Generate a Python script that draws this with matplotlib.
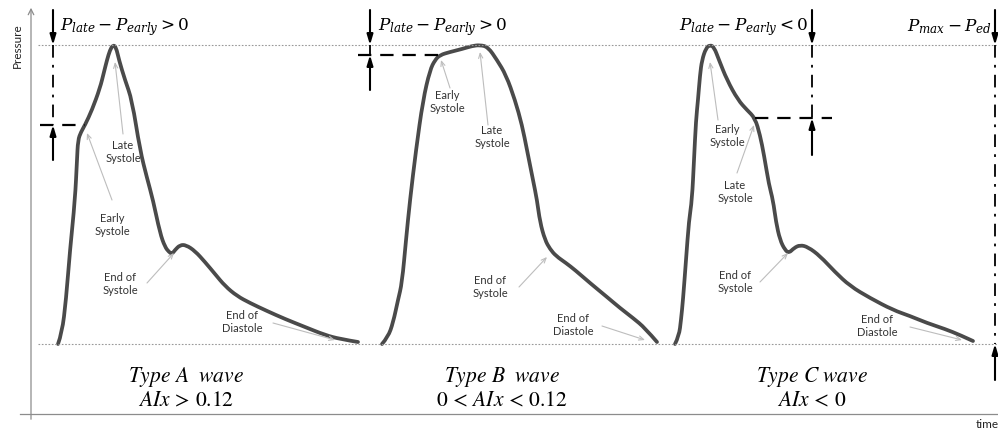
import numpy as np
import matplotlib
matplotlib.use('Agg')
import matplotlib.pyplot as plt
from matplotlib.path import Path
from matplotlib.patches import PathPatch

plt.rcParams['mathtext.fontset'] = 'stix'

# Waveforms: time (arbitrary units) vs pressure (arbitrary units, 0 = end diastolic)
time_a = [27, 31, 35, 39, 44, 46, 47, 50, 54, 61, 69, 73, 76, 79, 82, 85, 88, 94, 101, 109,
          116, 122, 129, 134, 138, 141, 144, 149, 155, 164, 174, 184, 194, 206, 219, 236,
          254, 274, 294, 309, 327]
press_a = [0, 11, 44, 94, 144, 184, 204, 212, 219, 234, 256, 272, 284, 294, 299, 297, 284, 264,
           244, 194, 166, 144, 111, 97, 92, 90, 94, 99, 99, 93, 82, 70, 58, 48, 41, 33, 25,
           17, 9, 5, 2]

time_b = [351, 357, 362, 367, 371, 375, 379, 385, 392, 399, 404, 409, 419, 431, 441, 449, 457,
          466, 475, 484, 491, 496, 502, 506, 509, 514, 519, 525, 535, 544, 559, 576, 589, 602,
          614, 626]
press_b = [0, 7, 21, 44, 61, 104, 144, 194, 244, 274, 284, 289, 292, 295, 298, 299, 297, 284,
           269, 244, 219, 194, 164, 144, 122, 104, 95, 88, 81, 74, 61, 47, 36, 26, 16, 2]

time_c = [644, 648, 650, 652, 655, 658, 661, 663, 665, 667, 669, 671, 675, 679, 683, 688, 696,
          707, 716, 724, 729, 733, 738, 742, 745, 749, 754, 758, 763, 769, 777, 789, 804, 819,
          839, 862, 879, 896, 914, 929, 942]
press_c = [0, 8, 24, 44, 84, 124, 144, 184, 224, 244, 269, 284, 296, 299, 297, 284, 264, 244,
           234, 226, 209, 189, 159, 144, 122, 104, 94, 91, 96, 99, 97, 88, 72, 58, 46, 34, 28,
           21, 15, 9, 3]

p_max = 299
p_ed = 0
early_levels = [219, 289, 226]

titles = ['$Type\\ A\\ \\ wave$', '$Type\\ B\\ \\ wave$', '$Type\\ C\\ wave$']
criteria = ['$AIx\\,>\\,0.12$', '$0\\,<\\,AIx\\,<\\,0.12$', '$AIx\\,<\\,0$']
diffs = ['$P_{late} - P_{early} > 0$', '$P_{late} - P_{early} > 0$',
         '$P_{late} - P_{early} < 0$']


def smooth_line(ax, t, p, **kw):
    # quadratic bezier through midpoints so the hand-drawn look stays smooth
    pts = np.column_stack([t, p]).astype(float)
    verts = [pts[0]]
    codes = [Path.MOVETO]
    n = len(pts)
    for i in range(1, n - 1):
        end = pts[n - 1] if i == n - 2 else (pts[i] + pts[i + 1]) / 2
        verts += [pts[i], end]
        codes += [Path.CURVE3, Path.CURVE3]
    ax.add_patch(PathPatch(Path(verts, codes), fill=False, **kw))


fig = plt.figure(figsize=(9.98, 4.29), dpi=100)
ax = fig.add_axes([0, 0, 1, 1])
ax.set_xlim(-31, 967)
ax.set_ylim(-85, 344)
ax.axis('off')

grey = '#8c8c8c'
wave_col = '#4a4a4a'
ann_col = '#bdbdbd'

# axes of the sketch
ax.annotate('', xy=(0, 339), xytext=(0, -78),
            arrowprops=dict(arrowstyle='->', color=grey, lw=0.9))
ax.plot([-11, 967], [-70, -70], color=grey, lw=0.9)
ax.text(-14, 298, 'Pressure', rotation=90, ha='center', va='center',
        fontsize=8.5, family='Lato', color='#222222')
ax.text(945, -81, 'time', ha='left', va='center', fontsize=8.5, family='Lato',
        color='#222222')

# reference levels
ax.plot([7, 967], [p_max, p_max], color='#999999', lw=0.8, ls=(0, (1.5, 1.5)))
ax.plot([7, 967], [p_ed, p_ed], color='#999999', lw=0.8, ls=(0, (1.5, 1.5)))

# waves
for t, p in [(time_a, press_a), (time_b, press_b), (time_c, press_c)]:
    smooth_line(ax, t, p, edgecolor=wave_col, lw=2.7, capstyle='round', joinstyle='round')

# measurement markers
arrow_kw = dict(arrowstyle='-|>,head_length=0.6,head_width=0.18', color='black', lw=1.5,
                shrinkA=0, shrinkB=0)
marker_x = [22, 339, 781]
dash_from = [9, 327, 724]
dash_to = [54, 409, 801]
low_start = [184, 254, 189]
for mx, x0, x1, lev, ls0 in zip(marker_x, dash_from, dash_to, early_levels, low_start):
    ax.annotate('', xy=(mx, p_max), xytext=(mx, 334), arrowprops=arrow_kw)
    ax.annotate('', xy=(mx, lev), xytext=(mx, ls0), arrowprops=arrow_kw)
    ax.plot([mx, mx], [p_max, lev], color='black', lw=1.3, ls=(0, (7, 4, 1.5, 4)))
    ax.plot([x0, x1], [lev, lev], color='black', lw=1.6, ls=(0, (6, 4)))

# Pmax - Ped marker
ax.annotate('', xy=(964, p_max), xytext=(964, 334), arrowprops=arrow_kw)
ax.annotate('', xy=(964, p_ed), xytext=(964, -36), arrowprops=arrow_kw)
ax.plot([964, 964], [p_max, p_ed], color='black', lw=1.3, ls=(0, (7, 4, 1.5, 4)))

ax.text(29, 317, diffs[0], ha='left', va='center', fontsize=12.2,
        math_fontfamily='dejavuserif')
ax.text(347, 317, diffs[1], ha='left', va='center', fontsize=12.2,
        math_fontfamily='dejavuserif')
ax.text(777, 317, diffs[2], ha='right', va='center', fontsize=12.2,
        math_fontfamily='dejavuserif')
ax.text(961, 317, '$P_{max} - P_{ed}$', ha='right', va='center', fontsize=12.2,
        math_fontfamily='dejavuserif')

title_x = [155, 471, 781]
for tx, s, c in zip(title_x, titles, criteria):
    ax.text(tx, -33, s, ha='center', va='center', fontsize=15.5)
    ax.text(tx, -56, c, ha='center', va='center', fontsize=15.5)

# labels with thin arrows: (text, text pos, arrow start, arrow end)
labels = [
    ('Late\nSystole', (92, 192), (92, 210), (84, 282)),
    ('Early\nSystole', (81, 119), (81, 144), (56, 211)),
    ('End of\nSystole', (89, 60), (116, 61), (143, 91)),
    ('End of\nDiastole', (211, 22), (242, 21), (304, 4)),
    ('Early\nSystole', (416, 242), (419, 256), (410, 284)),
    ('Late\nSystole', (461, 207), (457, 219), (449, 292)),
    ('End of\nSystole', (459, 57), (488, 57), (516, 87)),
    ('End of\nDiastole', (542, 19), (571, 18), (614, 4)),
    ('Early\nSystole', (696, 208), (687, 224), (679, 282)),
    ('Late\nSystole', (704, 152), (706, 171), (723, 219)),
    ('End of\nSystole', (704, 62), (729, 62), (757, 91)),
    ('End of\nDiastole', (846, 18), (879, 17), (931, 4)),
]
for s, tp, a0, a1 in labels:
    ax.text(tp[0], tp[1], s, ha='center', va='center', fontsize=8, family='Lato',
            color='#333333', linespacing=1.25)
    ax.annotate('', xy=a1, xytext=a0,
                arrowprops=dict(arrowstyle='->,head_length=0.35,head_width=0.15',
                                color=ann_col, lw=0.8, shrinkA=0, shrinkB=0))

fig.savefig('out.png', dpi=100)
